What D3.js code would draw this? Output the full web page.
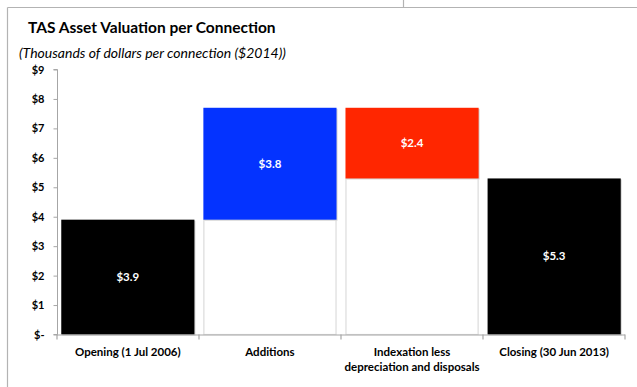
<!DOCTYPE html>
<html>
<head>
<meta charset="utf-8">
<script src="https://cdn.jsdelivr.net/npm/d3@7"></script>
<style>
  html, body { margin: 0; padding: 0; background: #fff; }
  svg { display: block; font-family: Lato, "Open Sans", sans-serif; }
</style>
</head>
<body>
<svg id="chart" width="637" height="387"></svg>
<script>
// Waterfall: opening value, additions, indexation net of depreciation/disposals, closing value
const categories = ["Opening (1 Jul 2006)", "Additions", "Indexation less|depreciation and disposals", "Closing (30 Jun 2013)"];
const changes = [3.9, 3.8, -2.4, 5.3];
const kinds = ["total", "up", "down", "total"];
const colors = { total: "#000000", up: "#0433ff", down: "#ff2600" };
const yTicks = [0, 1, 2, 3, 4, 5, 6, 7, 8, 9];

const svg = d3.select("#chart");
const frame = "#b3b3b3";
const axisColor = "#a6a6a6";

// Panel frame
svg.append("line").attr("x1", 7.5).attr("x2", 637).attr("y1", 7.5).attr("y2", 7.5)
  .attr("stroke", frame).attr("stroke-width", 1.2);
svg.append("line").attr("x1", 7.5).attr("x2", 7.5).attr("y1", 7.5).attr("y2", 387)
  .attr("stroke", frame).attr("stroke-width", 1.2);
svg.append("line").attr("x1", 403.5).attr("x2", 403.5).attr("y1", 0).attr("y2", 7.5)
  .attr("stroke", frame).attr("stroke-width", 1.2);

// Titles
svg.append("text").attr("x", 28).attr("y", 33)
  .attr("font-size", 15.5).attr("font-weight", 700).attr("fill", "#000")
  .text("TAS Asset Valuation per Connection");
svg.append("text").attr("x", 19).attr("y", 57.5)
  .attr("font-size", 14).attr("font-style", "italic").attr("fill", "#000")
  .text("(Thousands of dollars per connection ($2014))");

// Scales
const x = d3.scaleBand().domain(categories).range([57, 625])
  .paddingInner(0.063).paddingOuter(0.03);
const y = d3.scaleLinear().domain([0, 9]).range([334.5, 69.5]);

// Compute waterfall segments
let running = 0;
const bars = categories.map((c, i) => {
  const v = changes[i];
  let lo, hi;
  if (kinds[i] === "total") { lo = 0; hi = v; running = v; }
  else if (kinds[i] === "up") { lo = running; hi = running + v; running = hi; }
  else { hi = running; lo = running + v; running = lo; }
  return { cat: c, value: Math.abs(v), lo, hi, kind: kinds[i] };
});

// Invisible base bars (white with faint outline) under floating segments
const g = svg.append("g");
g.selectAll("rect.base").data(bars.filter(d => d.kind !== "total")).join("rect")
  .attr("class", "base")
  .attr("x", d => x(d.cat) + 0.5).attr("width", x.bandwidth() - 1)
  .attr("y", d => y(d.lo)).attr("height", d => y(0) - y(d.lo))
  .attr("fill", "#fff").attr("stroke", "#dcdcdc").attr("stroke-width", 1.2);

// Soft shadow behind coloured segments
g.selectAll("rect.shadow").data(bars).join("rect")
  .attr("class", "shadow")
  .attr("x", d => x(d.cat) + 1).attr("width", x.bandwidth())
  .attr("y", d => y(d.hi) + 1).attr("height", d => y(d.lo) - y(d.hi))
  .attr("fill", "#d4d4d4");

g.selectAll("rect.bar").data(bars).join("rect")
  .attr("class", "bar")
  .attr("x", d => x(d.cat)).attr("width", x.bandwidth())
  .attr("y", d => y(d.hi)).attr("height", d => y(d.lo) - y(d.hi))
  .attr("fill", d => colors[d.kind]);

const fmt = d3.format(".1f");
g.selectAll("text.val").data(bars).join("text")
  .attr("class", "val")
  .attr("x", d => x(d.cat) + x.bandwidth() / 2)
  .attr("y", d => (y(d.hi) + y(d.lo)) / 2 + 4)
  .attr("text-anchor", "middle")
  .attr("font-size", 11.5).attr("font-weight", 700).attr("fill", "#fff")
  .text(d => "$" + fmt(d.value));

// Y axis
const yAxis = d3.axisLeft(y).tickValues(yTicks).tickSize(4).tickPadding(9)
  .tickFormat(d => d === 0 ? "$-" : "$" + d);
const ya = svg.append("g").attr("transform", "translate(57.5,0)").call(yAxis);
ya.selectAll("path, line").attr("stroke", axisColor);
ya.select(".domain").attr("d", `M-4,${y(9)}H0V${y(0)}H-4`);
ya.selectAll("text").attr("font-size", 11).attr("font-weight", 700).attr("fill", "#000")
  .attr("font-family", "Lato, sans-serif");

// X axis with ticks at category boundaries
const xa = svg.append("g");
xa.append("line").attr("x1", 57).attr("x2", 625).attr("y1", y(0) + 0.5).attr("y2", y(0) + 0.5)
  .attr("stroke", axisColor).attr("stroke-width", 1.2);
const bounds = d3.range(categories.length + 1).map(i => 57 + (625 - 57) * i / categories.length);
xa.selectAll("line.tick").data(bounds).join("line")
  .attr("class", "tick")
  .attr("x1", d => d).attr("x2", d => d)
  .attr("y1", y(0)).attr("y2", y(0) + 5)
  .attr("stroke", axisColor).attr("stroke-width", 1.2);

xa.selectAll("text.cat").data(categories).join("text")
  .attr("class", "cat")
  .attr("x", d => x(d) + x.bandwidth() / 2)
  .attr("y", 356)
  .attr("text-anchor", "middle")
  .attr("font-size", 11.5).attr("font-weight", 700).attr("fill", "#000")
  .each(function (d) {
    const parts = d.split("|");
    d3.select(this).selectAll("tspan").data(parts).join("tspan")
      .attr("x", x(d) + x.bandwidth() / 2)
      .attr("dy", (p, i) => i === 0 ? 0 : 15)
      .text(p => p);
  });
</script>
</body>
</html>
